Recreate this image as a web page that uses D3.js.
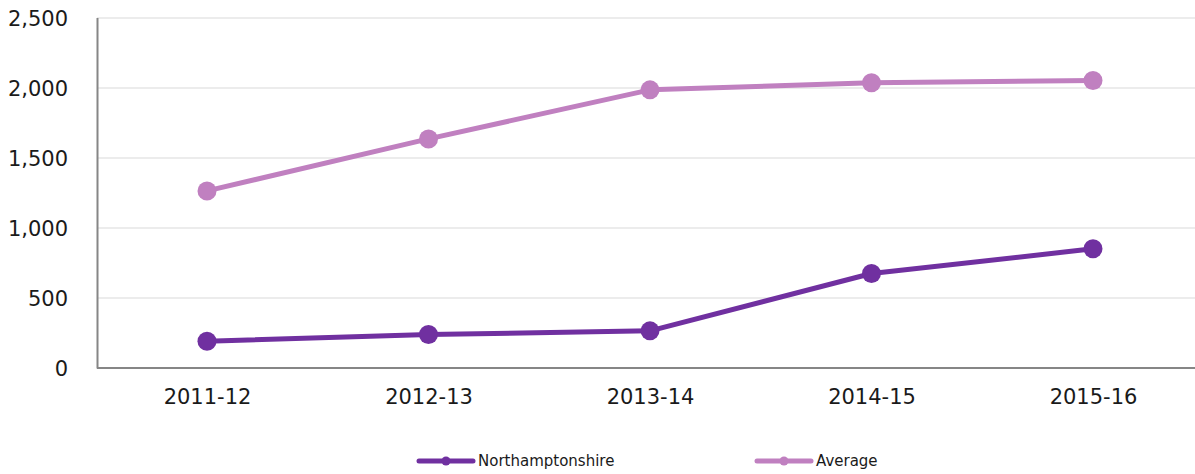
<!DOCTYPE html>
<html>
<head>
<meta charset="utf-8">
<script src="https://cdn.jsdelivr.net/npm/d3@7"></script>
<style>
  body { margin: 0; background: #fff; }
  text { font-family: "DejaVu Sans", Verdana, sans-serif; fill: #1a1a1a; }
</style>
</head>
<body>
<div id="main"></div>
<script>
//data
const years = ['2011-12', '2012-13', '2013-14', '2014-15', '2015-16'];
const northants = [191, 239, 265, 674, 850];
const average = [1263, 1634, 1984, 2034, 2050];
const yTicks = [0, 500, 1000, 1500, 2000, 2500];

const series = [
  {name: 'Northamptonshire', values: northants, color: '#7030a0'},
  {name: 'Average', values: average, color: '#c080c0'}
];

//constants
const W = 1195, H = 474;
const margin = {top: 17.5, right: 0, bottom: 106, left: 97};
const w = W - margin.left - margin.right;
const h = H - margin.top - margin.bottom;

//scales: the category spacing runs a little past the right edge
const x = d3.scalePoint()
  .domain(years)
  .range([-0.75, 1106.75])
  .padding(0.5);

const y = d3.scaleLinear()
  .domain([0, 2500])
  .range([h, 0]);

const svg = d3.select('#main')
  .append('svg')
  .attr('width', W)
  .attr('height', H);

const g = svg.append('g')
  .attr('transform', `translate(${margin.left}, ${margin.top})`);

//gridlines
g.append('g')
  .selectAll('line')
  .data(yTicks.filter(d => d > 0))
  .enter()
  .append('line')
  .attr('x1', 0)
  .attr('x2', w)
  .attr('y1', d => Math.round(y(d)) + 0.5)
  .attr('y2', d => Math.round(y(d)) + 0.5)
  .attr('stroke', '#d9d9d9')
  .attr('stroke-width', 1);

//axes:
const yAxis = d3.axisLeft(y)
  .tickValues(yTicks)
  .tickSize(0)
  .tickPadding(29)
  .tickFormat(d3.format(','));

const xAxis = d3.axisBottom(x)
  .tickSize(0)
  .tickPadding(21);

g.append('g')
  .attr('class', 'axis')
  .call(yAxis)
  .call(a => a.select('.domain').attr('stroke', '#868686').attr('stroke-width', 2))
  .selectAll('text')
  .style('font-size', '21px')
  .attr('dy', '0.36em');

const xg = g.append('g')
  .attr('class', 'axis')
  .attr('transform', `translate(0, ${h})`)
  .call(xAxis);

xg.select('.domain').remove();
xg.append('line')
  .attr('x1', 0)
  .attr('x2', w)
  .attr('stroke', '#868686')
  .attr('stroke-width', 2);
xg.selectAll('text')
  .style('font-size', '21px');

//lines + markers
const line = d3.line()
  .x((d, i) => x(years[i]))
  .y(d => y(d));

series.forEach(s => {
  g.append('path')
    .datum(s.values)
    .attr('fill', 'none')
    .attr('stroke', s.color)
    .attr('stroke-width', 5)
    .attr('stroke-linejoin', 'round')
    .attr('d', line);

  g.selectAll(null)
    .data(s.values)
    .enter()
    .append('circle')
    .attr('cx', (d, i) => x(years[i]))
    .attr('cy', d => y(d))
    .attr('r', 9.5)
    .attr('fill', s.color);
});

//legend
const legendX = [419, 757];
const legend = svg.append('g')
  .selectAll('g')
  .data(series)
  .enter()
  .append('g')
  .attr('transform', (d, i) => `translate(${legendX[i]}, 461)`);

legend.append('line')
  .attr('x1', 0)
  .attr('x2', 54)
  .attr('stroke', d => d.color)
  .attr('stroke-width', 5)
  .attr('stroke-linecap', 'round');

legend.append('circle')
  .attr('cx', 27)
  .attr('r', 4.5)
  .attr('fill', d => d.color);

legend.append('text')
  .attr('x', 59)
  .attr('dy', '0.36em')
  .style('font-size', '15px')
  .text(d => d.name);
</script>
</body>
</html>
